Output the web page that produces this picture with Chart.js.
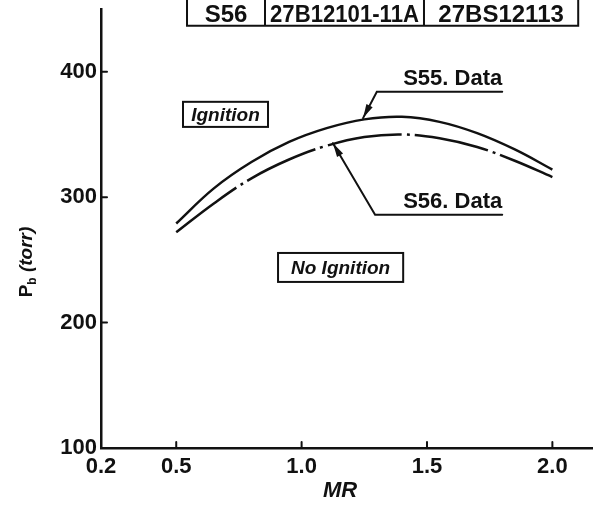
<!DOCTYPE html>
<html>
<head>
<meta charset="utf-8">
<script src="https://cdn.jsdelivr.net/npm/chart.js@4.4.1/dist/chart.umd.min.js"></script>
<style>
  body { margin: 0; background: #fff; }
  #wrap { width: 599px; height: 507px; }
</style>
</head>
<body>
<div id="wrap"><canvas id="myChart" width="599" height="507"></canvas></div>
<script>
// values
var mrValues  = [0.5, 0.65, 0.8, 0.95, 1.1, 1.25, 1.4, 1.55, 1.7, 1.85, 2.0];
var s55Values = [279, 307, 328, 344, 355, 362, 364, 360, 351, 338, 322];
var s56Values = [272, 295, 315, 330, 341, 348, 350, 347, 340, 329, 316];
var xTicks = [0.2, 0.5, 1.0, 1.5, 2.0];
var yTicks = [100, 200, 300, 400];
var tableCells = ["S56", "27B12101-11A", "27BS12113"];

var ink = "#111";
var fam = "'Liberation Sans', Arial, sans-serif";

function toPoints(ys){
    return mrValues.map(function(x, i){ return {x: x, y: ys[i]}; });
}

// text squeezed to fit a width
function fitText(c, txt, cx, y, maxW){
    var w = c.measureText(txt).width;
    var k = w > maxW ? maxW / w : 1;
    c.save();
    c.translate(cx, y);
    c.scale(k, 1);
    c.textAlign = 'center';
    c.fillText(txt, 0, 0);
    c.restore();
}

var notes = {
    id: 'notes',
    afterDraw: function(chart){
        var c = chart.ctx, xs = chart.scales.x, ys = chart.scales.y;
        var px = function(v){ return xs.getPixelForValue(v); };
        var py = function(v){ return ys.getPixelForValue(v); };
        c.save();
        c.strokeStyle = ink; c.fillStyle = ink; c.lineCap = 'round';

        // inward tick marks
        c.lineWidth = 2;
        yTicks.slice(1).forEach(function(v){
            c.beginPath(); c.moveTo(xs.left, py(v)); c.lineTo(xs.left + 6, py(v)); c.stroke();
        });
        xTicks.slice(1).forEach(function(v){
            c.beginPath(); c.moveTo(px(v), ys.bottom); c.lineTo(px(v), ys.bottom - 6); c.stroke();
        });

        // header table (top cut off)
        c.lineWidth = 2;
        var tl = px(0.543), tr = px(2.103), tb = py(436.7);
        var d1 = px(0.854), d2 = px(1.488);
        c.beginPath();
        c.moveTo(tl, -5); c.lineTo(tl, tb); c.lineTo(tr, tb); c.lineTo(tr, -5);
        c.moveTo(d1, -5); c.lineTo(d1, tb);
        c.moveTo(d2, -5); c.lineTo(d2, tb);
        c.stroke();
        c.font = "bold 24px " + fam;
        c.textBaseline = 'alphabetic';
        fitText(c, tableCells[0], (tl + d1) / 2, tb - 4, d1 - tl - 10);
        fitText(c, tableCells[1], (d1 + d2) / 2, tb - 4, d2 - d1 - 10);
        fitText(c, tableCells[2], (d2 + tr) / 2, tb - 4, tr - d2 - 10);

        // region boxes
        function box(x0, y0, x1, y1, txt){
            var l = px(x0), t = py(y0), r = px(x1), b = py(y1);
            c.lineWidth = 2;
            c.strokeRect(l, t, r - l, b - t);
            c.font = "italic bold 19px " + fam;
            c.textAlign = 'center'; c.textBaseline = 'middle';
            c.fillText(txt, (l + r) / 2, (t + b) / 2 + 1);
        }
        box(0.527, 376, 0.866, 356, "Ignition");
        box(0.906, 255.5, 1.405, 232.4, "No Ignition");

        // leader labels with arrows
        function leader(tipX, tipY, fromX, fromY, endX, txt){
            var tx = px(tipX), ty = py(tipY), fx = px(fromX), fy = py(fromY), ex = px(endX);
            c.lineWidth = 2;
            c.beginPath(); c.moveTo(ex, fy); c.lineTo(fx, fy); c.lineTo(tx, ty); c.stroke();
            var a = Math.atan2(ty - fy, tx - fx);
            c.beginPath();
            c.moveTo(tx, ty);
            c.lineTo(tx - 14 * Math.cos(a) + 3.5 * Math.sin(a), ty - 14 * Math.sin(a) - 3.5 * Math.cos(a));
            c.lineTo(tx - 14 * Math.cos(a) - 3.5 * Math.sin(a), ty - 14 * Math.sin(a) + 3.5 * Math.cos(a));
            c.closePath(); c.fill();
            c.font = "bold 22px " + fam;
            c.textAlign = 'right'; c.textBaseline = 'alphabetic';
            c.fillText(txt, ex, fy - 7);
        }
        leader(1.245, 363, 1.30, 384, 1.80, "S55. Data");
        leader(1.125, 343, 1.293, 286, 1.80, "S56. Data");

        // axis titles
        c.font = "italic bold 22px " + fam;
        c.textAlign = 'center'; c.textBaseline = 'middle';
        c.fillText("MR", 340, 491);

        c.translate(25, 262);
        c.rotate(-Math.PI / 2);
        c.textBaseline = 'alphabetic';
        var f1 = "bold 19px " + fam;
        var f2 = "bold 12px " + fam;
        var f3 = "italic bold 19px " + fam;
        c.font = f1; var wP = c.measureText("P").width;
        c.font = f2; var wb = c.measureText("b").width;
        c.font = f3; var wt = c.measureText(" (torr)").width;
        var x0 = -(wP + wb + wt) / 2;
        c.textAlign = 'left';
        c.font = f1; c.fillText("P", x0, 7);
        c.font = f2; c.fillText("b", x0 + wP, 11);
        c.font = f3; c.fillText(" (torr)", x0 + wP + wb, 7);
        c.restore();
    }
};

var ctx = document.getElementById('myChart').getContext('2d');
var myChart = new Chart(ctx, {
    type: 'line',
    data: {
        datasets: [{
            label: 'S55. Data',
            data: toPoints(s55Values),
            borderColor: ink,
            borderWidth: 2.5,
            pointRadius: 0,
            tension: 0.4,
            fill: false
        }, {
            label: 'S56. Data',
            data: toPoints(s56Values),
            borderColor: ink,
            borderWidth: 2.5,
            borderDash: [75, 5, 3, 5],
            pointRadius: 0,
            tension: 0.4,
            fill: false
        }]
    },
    options: {
        responsive: false,
        animation: false,
        layout: { padding: { top: 9, right: 7, left: 0, bottom: 0 } },
        plugins: { legend: { display: false }, tooltip: { enabled: false } },
        scales: {
            x: {
                type: 'linear', min: 0.2, max: 2.158,
                afterBuildTicks: function(s){ s.ticks = xTicks.map(function(v){ return {value: v}; }); },
                afterFit: function(s){ s.height = 59; s.paddingLeft = 0; s.paddingRight = 0; },
                grid: { display: false, drawTicks: false },
                border: { color: ink, width: 2.5 },
                ticks: {
                    autoSkip: false, maxRotation: 0, color: ink, padding: 6,
                    font: { family: fam, size: 22, weight: 'bold' },
                    callback: function(v){ return v.toFixed(1); }
                }
            },
            y: {
                type: 'linear', min: 100, max: 450,
                afterBuildTicks: function(s){ s.ticks = yTicks.map(function(v){ return {value: v}; }); },
                afterFit: function(s){ s.width = 101; s.paddingTop = 0; s.paddingBottom = 0; },
                grid: { display: false, drawTicks: false },
                border: { color: ink, width: 2.5 },
                ticks: {
                    autoSkip: false, color: ink, padding: 4,
                    font: { family: fam, size: 22, weight: 'bold' }
                }
            }
        }
    },
    plugins: [notes]
});
</script>
</body>
</html>
